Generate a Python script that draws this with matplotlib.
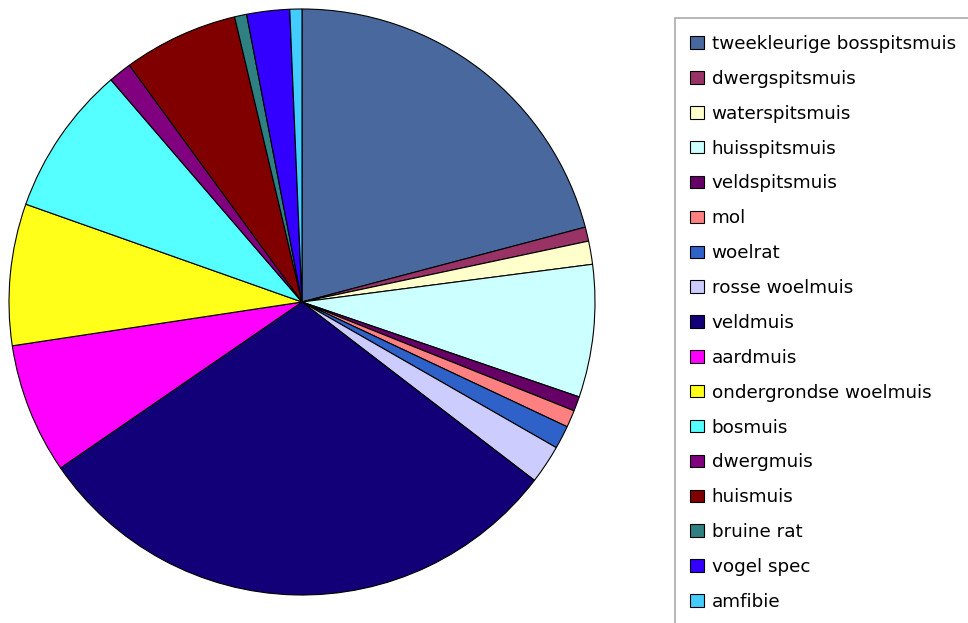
import matplotlib
matplotlib.use("Agg")
import matplotlib.pyplot as plt
from matplotlib.patches import Rectangle

soorten = ["tweekleurige bosspitsmuis", "dwergspitsmuis", "waterspitsmuis",
           "huisspitsmuis", "veldspitsmuis", "mol", "woelrat", "rosse woelmuis",
           "veldmuis", "aardmuis", "ondergrondse woelmuis", "bosmuis",
           "dwergmuis", "huismuis", "bruine rat", "vogel spec", "amfibie"]
aantallen = [75.2, 2.8, 4.6, 26.3, 2.9, 3.4, 4.6, 7.7,
             108.0, 25.9, 28.1, 29.8, 4.6, 22.8, 2.4, 8.5, 2.4]
kleuren = ["#49699e", "#993366", "#ffffcc", "#ccffff", "#660066", "#ff8080",
           "#2f62c9", "#ccccff", "#120078", "#ff00ff", "#ffff1a", "#55ffff",
           "#800080", "#800000", "#2f8080", "#3300ff", "#44ccff"]

W, H = 968, 623
fig = plt.figure(figsize=(W / 100, H / 100), dpi=100)

# taart: midden (302, 302) px, straal 293 px
cx, cy, r = 302, 302, 293
ax = fig.add_axes([(cx - r) / W, (H - cy - r) / H, 2 * r / W, 2 * r / H])
wedges, _ = ax.pie(aantallen, colors=kleuren, startangle=90, counterclock=False,
                   wedgeprops=dict(edgecolor="black", linewidth=0.8))
ax.set_xlim(-1, 1)
ax.set_ylim(-1, 1)
ax.set_aspect("equal")
ax.axis("off")

# legendakader loopt buiten het beeld door
fig.patches.append(Rectangle((675 / W, -0.1), 0.5, 1 - 18 / H + 0.1,
                             transform=fig.transFigure, fill=False,
                             edgecolor="#aaaaaa", linewidth=1.2))

fig.legend(wedges, soorten, loc="upper left",
           bbox_to_anchor=(690 / W, 1 - 35 / H), frameon=False,
           prop=dict(family="DejaVu Sans", size=13.2),
           handlelength=0.78, handleheight=0.67, handletextpad=0.4,
           labelspacing=0.92, borderpad=0, borderaxespad=0)

fig.savefig("out.png", dpi=100)
